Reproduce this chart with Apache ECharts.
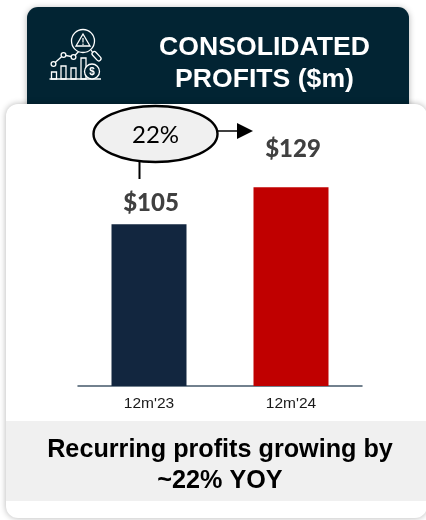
<!DOCTYPE html>
<html>
<head>
<meta charset="utf-8">
<style>html,body{margin:0;padding:0;background:#fff}#c{width:426px;height:520px}</style>
<script src="https://cdn.jsdelivr.net/npm/echarts@6/dist/echarts.min.js"></script>
</head>
<body>
<div id="c"></div>
<script>
const categories = ["12m'23", "12m'24"];
const profits = [105, 129];
const barColors = ['#12263f', '#c00000'];
const labelGaps = [9, 26];
const titleLines = ['CONSOLIDATED', 'PROFITS ($m)'];
const growthText = '22%';
const footerLines = ['Recurring profits growing by', '~22% YOY'];

const ARIAL = '"Liberation Sans", Arial, sans-serif';
const CAL = 'Lato, Carlito, sans-serif';
const chart = echarts.init(document.getElementById('c'), null, {renderer: 'canvas'});

const iconStroke = {stroke: '#ffffff', lineWidth: 1.3, fill: 'transparent'};
const iconFill = {stroke: '#ffffff', lineWidth: 1.3, fill: '#022433'};
function line(x1, y1, x2, y2, style, z) {
  return {type: 'line', z: z, shape: {x1, y1, x2, y2}, style: style};
}
function iconBar(x, top, w) {
  return {type: 'rect', z: 5, shape: {x: x, y: top, width: w, height: 79 - top}, style: iconStroke};
}
function iconDot(cx, cy) {
  return {type: 'circle', z: 6, shape: {cx, cy, r: 2.4}, style: iconFill};
}
function txt(text, x, y, font, fill, z) {
  return {type: 'text', z: z, x: x, y: y, style: {text: text, font: font, fill: fill, align: 'center', verticalAlign: 'middle'}};
}

const graphics = [
  {type: 'rect', z: 0, shape: {x: 27, y: 7, width: 382, height: 110, r: 11},
    style: {fill: '#022433', shadowBlur: 6, shadowColor: 'rgba(0,0,0,0.3)', shadowOffsetY: 1}},
  {type: 'rect', z: 1, shape: {x: 6, y: 104, width: 421, height: 414, r: 12},
    style: {fill: '#ffffff', shadowBlur: 6, shadowColor: 'rgba(0,0,0,0.3)', shadowOffsetY: 0}},
  {type: 'rect', z: 1, shape: {x: 6, y: 421, width: 420, height: 80}, style: {fill: '#f0f0f0'}},
  txt(titleLines[0], 264.5, 47.5, 'bold 26.6px ' + ARIAL, '#ffffff', 5),
  txt(titleLines[1], 264.5, 79.5, 'bold 26.6px ' + ARIAL, '#ffffff', 5),
  txt(footerLines[0], 220, 450, 'bold 25.2px ' + ARIAL, '#000000', 5),
  txt(footerLines[1], 220, 481, 'bold 25.2px ' + ARIAL, '#000000', 5),

  // growth callout
  line(139.5, 160, 139.5, 179, {stroke: '#000', lineWidth: 2}, 5),
  line(217, 131, 240, 131, {stroke: '#000', lineWidth: 1.5}, 5),
  {type: 'polygon', z: 5, shape: {points: [[237, 123], [253, 131], [237, 139]]}, style: {fill: '#000'}},
  {type: 'ellipse', z: 6, shape: {cx: 155.5, cy: 134, rx: 62, ry: 28}, style: {fill: '#f0f0f0', stroke: '#000', lineWidth: 2.4}},
  txt(growthText, 155.5, 135, '24px ' + CAL, '#000000', 7),

  // header icon
  line(49.5, 79, 101, 79, {stroke: '#fff', lineWidth: 1.4}, 5),
  iconBar(51.5, 72, 5), iconBar(61, 66, 5), iconBar(71, 68, 5), iconBar(81, 58, 5),
  {type: 'polyline', z: 5, shape: {points: [[53.5, 64], [63.5, 55], [73.5, 57], [80, 50]]}, style: {stroke: '#fff', lineWidth: 1.3, fill: 'none'}},
  iconDot(53.5, 64), iconDot(63.5, 55), iconDot(73.5, 57),
  {type: 'circle', z: 6, shape: {cx: 92, cy: 71.5, r: 7.5}, style: iconFill},
  {type: 'text', z: 7, x: 92, y: 72, style: {text: '$', font: 'bold 10px ' + ARIAL, fill: '#fff', align: 'center', verticalAlign: 'middle'}},
  {type: 'circle', z: 6, shape: {cx: 83, cy: 41, r: 11.5}, style: iconFill},
  {type: 'polygon', z: 7, shape: {points: [[83, 34], [90, 46], [76, 46]]}, style: iconStroke},
  line(83, 38, 83, 42.5, {stroke: '#fff', lineWidth: 1.2}, 7),
  line(83, 43.5, 83, 45, {stroke: '#fff', lineWidth: 1.2}, 7),
  line(91, 50, 93, 53, iconStroke, 7),
  {type: 'rect', z: 7, rotation: 0.75, originX: 96, originY: 56, shape: {x: 94, y: 51, width: 4.5, height: 11, r: 2.2}, style: iconStroke}
];

chart.setOption({
  animation: false,
  graphic: graphics,
  grid: {left: 78, right: 64, top: 78, bottom: 134},
  xAxis: {
    type: 'category',
    z: 3,
    data: categories,
    axisLine: {lineStyle: {color: '#44586a', width: 1.5}},
    axisTick: {show: false},
    axisLabel: {color: '#1a1a1a', fontFamily: ARIAL, fontSize: 15.5, margin: 10}
  },
  yAxis: {type: 'value', min: 0, max: 200, interval: 50, show: false, splitLine: {show: false}},
  series: [{
    type: 'bar',
    barWidth: 75,
    z: 4,
    data: profits.map((v, i) => ({
      value: v,
      itemStyle: {color: barColors[i]},
      label: {distance: labelGaps[i]}
    })),
    label: {
      show: true,
      position: 'top',
      offset: [2, 0],
      formatter: p => '$' + p.value,
      fontFamily: CAL,
      fontWeight: 900,
      fontSize: 24,
      color: '#404040'
    }
  }]
});
</script>
</body>
</html>
